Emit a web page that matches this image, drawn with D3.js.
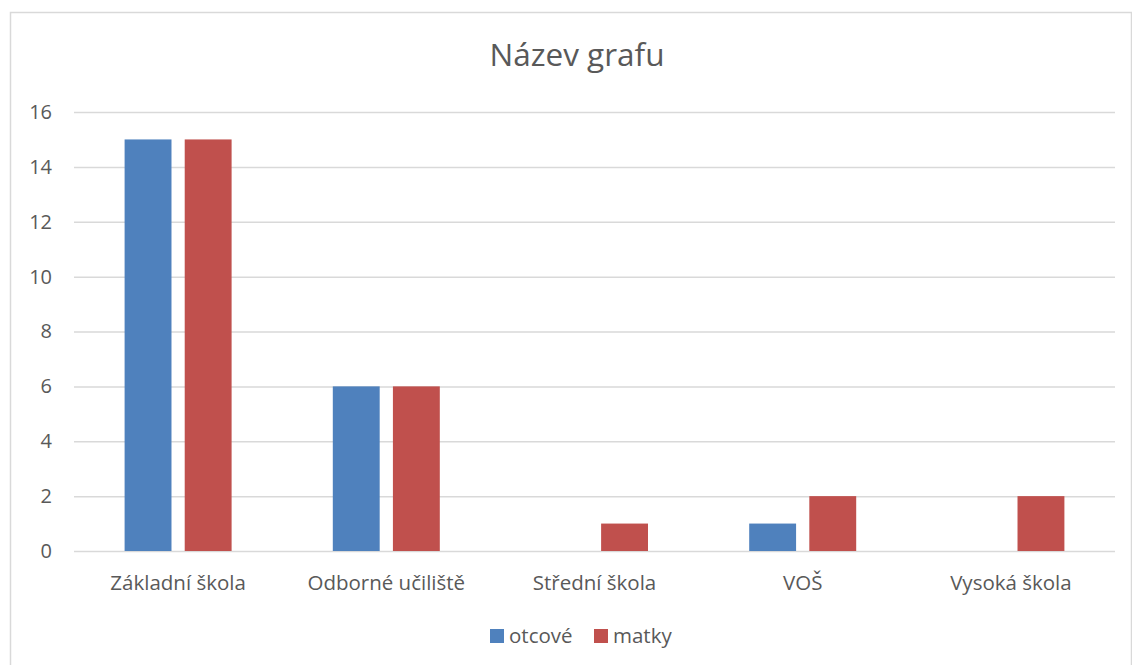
<!DOCTYPE html>
<html>
<head>
<meta charset="utf-8">
<script src="https://cdn.jsdelivr.net/npm/d3@7"></script>
<style>
  body { margin: 0; background: #fff; }
  svg { display: block; font-family: "Open Sans", "Noto Sans", sans-serif; }
</style>
</head>
<body>
<svg id="chart" width="1132" height="665"></svg>
<script>
// data
var categories = ["Základní škola", "Odborné učiliště", "Střední škola", "VOŠ", "Vysoká škola"];
var seriesNames = ["otcové", "matky"];
var otcove = [15, 6, 0, 1, 0];
var matky = [15, 6, 1, 2, 2];
var yTicks = [0, 2, 4, 6, 8, 10, 12, 14, 16];
var colors = ["#4F81BD", "#C0504D"];

var svg = d3.select("#chart");

// chart frame
svg.append("rect")
    .attr("x", 10.5).attr("y", 12.5)
    .attr("width", 1121).attr("height", 700)
    .attr("fill", "#fff")
    .attr("stroke", "#d9d9d9")
    .attr("stroke-width", 1.5);

var plot = {left: 74, right: 1115, top: 112, bottom: 551};

var x = d3.scaleBand()
    .domain(categories)
    .range([plot.left, plot.right]);

var xInner = d3.scaleBand()
    .domain(seriesNames)
    .range([x.bandwidth() / 2 - 53.5, x.bandwidth() / 2 + 53.5])
    .paddingInner(0.22);

var y = d3.scaleLinear()
    .domain([0, 16])
    .range([plot.bottom, plot.top]);

// gridlines
svg.append("g")
    .selectAll("line")
    .data(yTicks)
    .enter()
    .append("line")
    .attr("x1", plot.left)
    .attr("x2", plot.right)
    .attr("y1", function (d) { return y(d) + 0.5; })
    .attr("y2", function (d) { return y(d) + 0.5; })
    .attr("stroke", "#d9d9d9")
    .attr("stroke-width", 1.5);

// y axis labels
var yAxis = d3.axisLeft(y).tickValues(yTicks).tickSize(0).tickPadding(0);
var gy = svg.append("g")
    .attr("transform", "translate(52,0)")
    .call(yAxis);
gy.select(".domain").remove();
gy.selectAll("text")
    .attr("fill", "#595959")
    .style("font-size", "20px")
    .style("font-family", "'Open Sans', 'Noto Sans', sans-serif");

// x axis labels
var xAxis = d3.axisBottom(x).tickSize(0).tickPadding(0);
var gx = svg.append("g")
    .attr("transform", "translate(0,590)")
    .call(xAxis);
gx.select(".domain").remove();
gx.selectAll("text")
    .attr("y", 0)
    .attr("dy", 0)
    .attr("fill", "#595959")
    .style("font-size", "20.5px")
    .style("font-family", "'Open Sans', 'Noto Sans', sans-serif");

// bars
var rows = categories.map(function (c, i) {
    return {cat: c, values: [otcove[i], matky[i]]};
});

var groups = svg.append("g")
    .selectAll("g")
    .data(rows)
    .enter()
    .append("g")
    .attr("transform", function (d) { return "translate(" + x(d.cat) + ",0)"; });

groups.selectAll("rect")
    .data(function (d) {
        return d.values.map(function (v, k) { return {name: seriesNames[k], value: v, k: k}; });
    })
    .enter()
    .append("rect")
    .filter(function (d) { return d.value > 0; })
    .attr("x", function (d) { return xInner(d.name); })
    .attr("width", xInner.bandwidth())
    .attr("y", function (d) { return y(d.value); })
    .attr("height", function (d) { return y(0) - y(d.value); })
    .attr("fill", function (d) { return colors[d.k]; });

// title
svg.append("text")
    .attr("x", 577)
    .attr("y", 66)
    .attr("text-anchor", "middle")
    .attr("fill", "#595959")
    .style("font-size", "31.5px")
    .text("Název grafu");

// legend
var legendX = [490, 594];
var legend = svg.append("g")
    .selectAll("g")
    .data(seriesNames)
    .enter()
    .append("g")
    .attr("transform", function (d, i) { return "translate(" + legendX[i] + ",629)"; });

legend.append("rect")
    .attr("width", 14)
    .attr("height", 14)
    .attr("fill", function (d, i) { return colors[i]; });

legend.append("text")
    .attr("x", 19)
    .attr("y", 14)
    .attr("fill", "#595959")
    .style("font-size", "20.5px")
    .text(function (d) { return d; });
</script>
</body>
</html>
